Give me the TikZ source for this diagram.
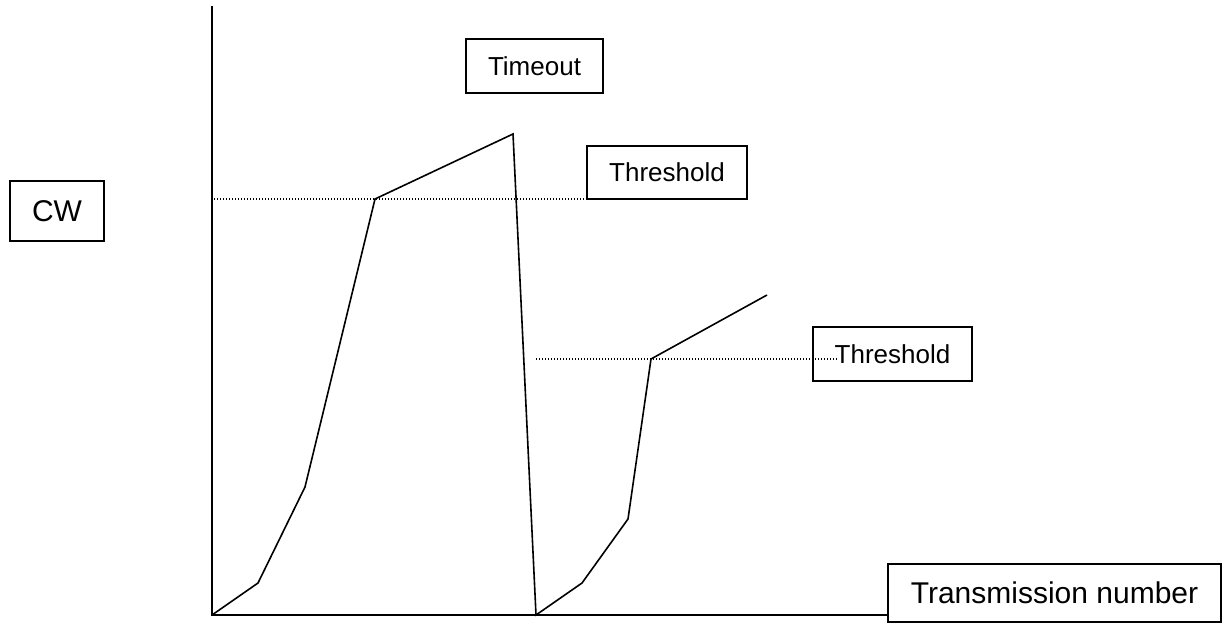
\documentclass[tikz,border=0pt]{standalone}
\usepackage{fontspec}
\setmainfont{Liberation Sans}
\begin{document}
\begin{tikzpicture}[x=1pt,y=-1pt,
  label box/.style={draw, line width=1.6pt, inner sep=0pt, fill=white},
  curve/.style={line width=1.6pt, line join=miter},
  axis/.style={line width=1.6pt},
  guide/.style={line width=1.2pt, dash pattern=on 1.2pt off 1.8pt}]
\useasboundingbox (0,0) rectangle (1222,624);

% axes
\coordinate (ytop) at (212,6);
\coordinate (org) at (212,615);
\node[label box, minimum width=333pt, minimum height=58pt,
      font=\fontsize{30}{36}\selectfont] (xlab) at (1054.5,593) {Transmission number};
\draw[axis] (ytop) -- (org) -- (xlab.west |- org);

% threshold guide lines
\coordinate (g1a) at (214,199);
\coordinate (g1b) at (603,199);
\coordinate (g2a) at (536,359);
\coordinate (g2b) at (837,359);
\draw[guide] (g1a) -- (g1b);

% labels
\node[label box, minimum width=94pt, minimum height=60pt,
      font=\fontsize{30}{36}\selectfont] (cw) at (57,211) {CW};
\node[label box, minimum width=137pt, minimum height=54pt,
      font=\fontsize{26}{31}\selectfont] (timeout) at (534.5,66) {Timeout};
\node[label box, minimum width=160pt, minimum height=53pt,
      font=\fontsize{26}{31}\selectfont] (th1) at (667,172.5) {Threshold};
\node[label box, minimum width=159pt, minimum height=54pt,
      font=\fontsize{26}{31}\selectfont] (th2) at (892.5,354) {Threshold};
\draw[guide] (g1a) -- (g1b);
\draw[guide] (g2a) -- (g2b);

% congestion window curve
\coordinate (p1) at (258,583);
\coordinate (p2) at (305,487);
\coordinate (p3) at (375,199);
\coordinate (p4) at (513,134);
\coordinate (p5) at (536,615);
\coordinate (p6) at (582,583);
\coordinate (p7) at (628,519);
\coordinate (p8) at (651,359);
\coordinate (p9) at (767,295);
\draw[curve] (org) -- (p1) -- (p2) -- (p3) -- (p4) -- (p5) -- (p6) -- (p7) -- (p8) -- (p9);
\end{tikzpicture}
\end{document}
